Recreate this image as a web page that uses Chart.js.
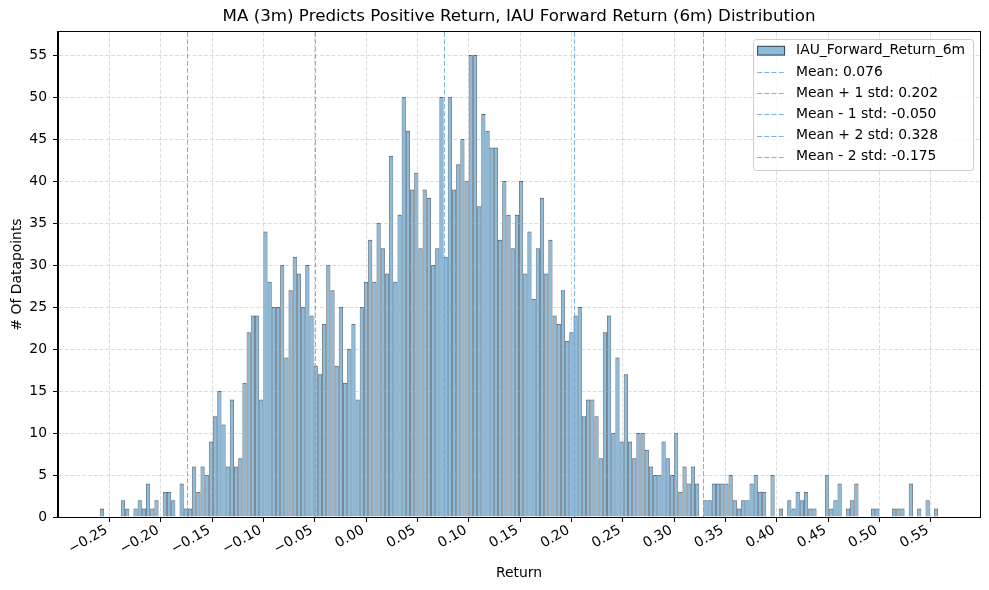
<!DOCTYPE html>
<html>
<head>
<meta charset="utf-8">
<script src="https://cdn.jsdelivr.net/npm/chart.js@4.4.1/dist/chart.umd.min.js"></script>
<style>
  html, body { margin: 0; padding: 0; background: #fff; }
</style>
</head>
<body>
<canvas id="histchart" width="989" height="590"></canvas>
<script>
// IAU forward 6m return histogram, 200 equal bins
const binStart = -0.2595;
const binEnd = 0.5570;
const binCount = 200;
const counts = [
  1, 0, 0, 0, 0, 2, 1, 0, 1, 2,
  1, 4, 1, 2, 0, 3, 3, 2, 0, 4,
  1, 1, 6, 3, 6, 5, 9, 12, 15, 11,
  6, 14, 6, 7, 16, 22, 24, 24, 14, 34,
  28, 25, 25, 30, 19, 27, 31, 29, 25, 30,
  24, 18, 17, 23, 30, 27, 18, 25, 16, 20,
  23, 14, 25, 28, 33, 28, 35, 32, 29, 43,
  28, 36, 50, 46, 39, 41, 32, 39, 38, 30,
  32, 50, 31, 50, 39, 42, 45, 40, 55, 55,
  37, 48, 46, 44, 44, 33, 40, 36, 32, 36,
  40, 29, 34, 26, 32, 38, 29, 33, 24, 23,
  27, 21, 22, 24, 25, 12, 14, 14, 12, 7,
  22, 24, 10, 19, 9, 17, 9, 7, 10, 10,
  8, 6, 5, 5, 9, 7, 5, 10, 3, 6,
  4, 6, 4, 0, 2, 2, 4, 4, 4, 4,
  5, 2, 1, 2, 2, 4, 5, 3, 3, 0,
  5, 0, 1, 0, 2, 1, 3, 2, 3, 1,
  1, 0, 0, 5, 1, 2, 4, 0, 1, 2,
  4, 0, 0, 0, 1, 1, 0, 0, 0, 1,
  1, 1, 0, 4, 0, 1, 0, 2, 0, 1
];
const seriesLabel = 'IAU_Forward_Return_6m';

// mean / std reference lines
const statLabels = ['Mean: 0.076', 'Mean + 1 std: 0.202', 'Mean - 1 std: -0.050', 'Mean + 2 std: 0.328', 'Mean - 2 std: -0.175'];
const statValues = [0.076, 0.202, -0.050, 0.328, -0.175];

const xTicks = [-0.25, -0.20, -0.15, -0.10, -0.05, 0.00, 0.05, 0.10, 0.15, 0.20, 0.25, 0.30, 0.35, 0.40, 0.45, 0.50, 0.55];
const yTicks = [0, 5, 10, 15, 20, 25, 30, 35, 40, 45, 50, 55];

const binWidth = (binEnd - binStart) / binCount;
const span = binEnd - binStart;
const xMin = binStart - 0.05 * span;
const xMax = binEnd + 0.05 * span;
const yMax = Math.max(...counts) * 1.05;

const FONT = '"DejaVu Sans", sans-serif';
const lineColor = 'rgba(100, 165, 220, 0.85)';
const barFill = 'rgba(31,119,180,0.5)';
const barEdge = 'rgba(10,25,40,0.72)';

const fmtTick = v => (v < -1e-9 ? '\u2212' : '') + Math.abs(v).toFixed(2);

const extras = {
  id: 'extras',
  afterDraw(chart) {
    const ctx = chart.ctx;
    const area = chart.chartArea;
    const xs = chart.scales.x;

    // vertical mean/std lines
    ctx.save();
    ctx.beginPath();
    ctx.rect(area.left, area.top, area.right - area.left, area.bottom - area.top);
    ctx.clip();
    ctx.strokeStyle = lineColor;
    ctx.lineWidth = 1;
    ctx.setLineDash([5, 2.2]);
    statValues.forEach(v => {
      const px = Math.round(xs.getPixelForValue(v)) + 0.5;
      ctx.beginPath();
      ctx.moveTo(px, area.top);
      ctx.lineTo(px, area.bottom);
      ctx.stroke();
    });
    ctx.restore();

    // frame
    ctx.save();
    ctx.strokeStyle = '#000';
    ctx.lineWidth = 1;
    ctx.strokeRect(Math.round(area.left) - 0.5, Math.round(area.top) - 0.5,
      Math.round(area.right - area.left) + 1, Math.round(area.bottom - area.top) + 1);
    ctx.restore();

    // title
    ctx.save();
    ctx.fillStyle = '#000';
    ctx.font = '16.7px ' + FONT;
    ctx.textAlign = 'center';
    ctx.textBaseline = 'middle';
    ctx.fillText('MA (3m) Predicts Positive Return, IAU Forward Return (6m) Distribution',
      (area.left + area.right) / 2, 17);
    ctx.restore();

    // legend
    ctx.save();
    ctx.font = '13.9px ' + FONT;
    const labels = [seriesLabel].concat(statLabels);
    const textW = Math.max(...labels.map(t => ctx.measureText(t).width));
    const w = 43 + textW + 8;
    const h = 131;
    const x1 = area.right - 7;
    const x0 = x1 - w;
    const y0 = area.top + 7;
    ctx.beginPath();
    ctx.roundRect(x0 + 0.5, y0 + 0.5, w, h, 3);
    ctx.fillStyle = 'rgba(255,255,255,0.8)';
    ctx.fill();
    ctx.strokeStyle = '#cccccc';
    ctx.lineWidth = 1;
    ctx.stroke();
    labels.forEach((t, i) => {
      const cy = y0 + 11.7 + 21.2 * i;
      if (i === 0) {
        ctx.fillStyle = barFill;
        ctx.fillRect(x0 + 4, cy - 4.85, 28, 9.7);
        ctx.strokeStyle = barEdge;
        ctx.strokeRect(x0 + 4.5, cy - 4.35, 27, 8.7);
      } else {
        ctx.strokeStyle = lineColor;
        ctx.setLineDash([5, 2.2]);
        ctx.beginPath();
        ctx.moveTo(x0 + 4, Math.round(cy) + 0.5);
        ctx.lineTo(x0 + 32, Math.round(cy) + 0.5);
        ctx.stroke();
        ctx.setLineDash([]);
      }
      ctx.fillStyle = '#000';
      ctx.textAlign = 'left';
      ctx.textBaseline = 'middle';
      ctx.fillText(t, x0 + 43, cy);
    });
    ctx.restore();
  }
};

const gridOpts = {
  z: 1,
  offset: false,
  color: 'rgba(176,176,176,0.55)',
  lineWidth: 0.8,
  tickColor: '#000',
  tickLength: 5,
  tickWidth: 1
};

new Chart(document.getElementById('histchart'), {
  type: 'bar',
  data: {
    datasets: [{
      label: seriesLabel,
      data: counts.map((c, i) => ({ x: binStart + (i + 0.5) * binWidth, y: c })),
      backgroundColor: barFill,
      borderColor: barEdge,
      borderWidth: { top: 1, left: 0.7, right: 0.7, bottom: 0 },
      inflateAmount: 0,
      barPercentage: 1,
      categoryPercentage: 1
    }]
  },
  options: {
    responsive: false,
    devicePixelRatio: 1,
    animation: false,
    layout: { padding: { left: 0, right: 9, top: 32, bottom: 0 } },
    plugins: {
      legend: { display: false },
      title: { display: false },
      tooltip: { enabled: false }
    },
    scales: {
      x: {
        type: 'linear',
        min: xMin,
        max: xMax,
        offset: false,
        afterBuildTicks: s => { s.ticks = xTicks.map(v => ({ value: v })); },
        afterFit: s => { s.height = 73; },
        ticks: {
          autoSkip: false,
          minRotation: 30,
          maxRotation: 30,
          padding: 0,
          labelOffset: -3,
          color: '#000',
          font: { family: FONT, size: 13.9 },
          callback: v => fmtTick(v)
        },
        grid: gridOpts,
        border: { display: true, color: '#000', width: 1, dash: [4, 1.8], z: 1 },
        title: {
          display: true, text: 'Return', color: '#000',
          font: { family: FONT, size: 13.9 },
          padding: { top: 0, bottom: 8 }
        }
      },
      y: {
        type: 'linear',
        min: 0,
        max: yMax,
        afterBuildTicks: s => { s.ticks = yTicks.map(v => ({ value: v })); },
        afterFit: s => { s.width = 58; },
        ticks: {
          padding: 6,
          color: '#000',
          font: { family: FONT, size: 13.9 }
        },
        grid: gridOpts,
        border: { display: true, color: '#000', width: 1, dash: [4, 1.8], z: 1 },
        title: {
          display: true, text: '# Of Datapoints', color: '#000',
          font: { family: FONT, size: 13.9 },
          padding: { top: 9, bottom: 0 }
        }
      }
    }
  },
  plugins: [extras]
});
</script>
</body>
</html>
